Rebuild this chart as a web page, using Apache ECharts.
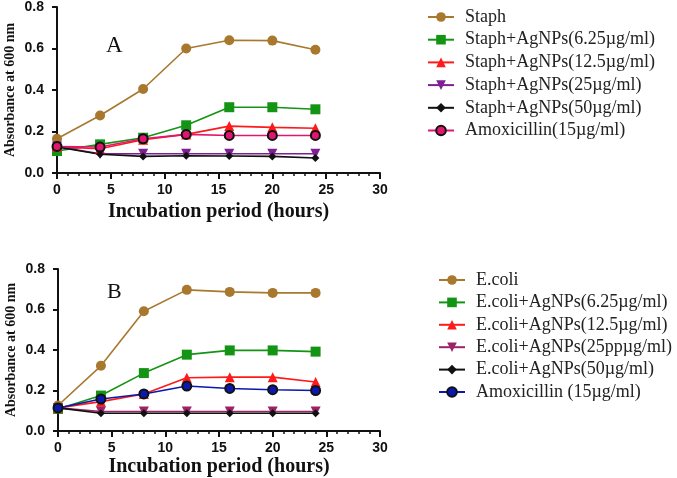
<!DOCTYPE html>
<html>
<head>
<meta charset="utf-8">
<script src="https://cdn.jsdelivr.net/npm/echarts@6/dist/echarts.min.js"></script>
<style>
  html, body { margin: 0; padding: 0; background: #fff; }
  #main { width: 677px; height: 478px; }
</style>
</head>
<body>
<div id="main"></div>
<script>
// sampling times (hours)
var hours = [0, 4, 8, 12, 16, 20, 24];

// panel A - Staph
var namesA = ['Staph', 'Staph+AgNPs(6.25µg/ml)', 'Staph+AgNPs(12.5µg/ml)', 'Staph+AgNPs(25µg/ml)', 'Staph+AgNPs(50µg/ml)', 'Amoxicillin(15µg/ml)'];
var staph      = [0.165, 0.277, 0.405, 0.600, 0.640, 0.638, 0.594];
var staph625   = [0.106, 0.138, 0.170, 0.230, 0.317, 0.317, 0.307];
var staph125   = [0.125, 0.117, 0.160, 0.186, 0.226, 0.220, 0.216];
var staph25    = [0.128, 0.092, 0.093, 0.093, 0.093, 0.093, 0.093];
var staph50    = [0.125, 0.090, 0.080, 0.083, 0.082, 0.080, 0.072];
var staphAmox  = [0.128, 0.125, 0.165, 0.186, 0.181, 0.181, 0.181];

// panel B - E.coli
var namesB = ['E.coli', 'E.coli+AgNPs(6.25µg/ml)', 'E.coli+AgNPs(12.5µg/ml)', 'E.coli+AgNPs(25ppµg/ml)', 'E.coli+AgNPs(50µg/ml)', 'Amoxicillin (15µg/ml)'];
var ecoli      = [0.126, 0.322, 0.591, 0.697, 0.687, 0.682, 0.682];
var ecoli625   = [0.109, 0.175, 0.286, 0.377, 0.398, 0.398, 0.392];
var ecoli125   = [0.114, 0.145, 0.183, 0.263, 0.266, 0.266, 0.242];
var ecoli25    = [0.114, 0.096, 0.096, 0.096, 0.096, 0.096, 0.096];
var ecoli50    = [0.114, 0.088, 0.088, 0.088, 0.088, 0.088, 0.088];
var ecoliAmox  = [0.114, 0.158, 0.183, 0.222, 0.210, 0.204, 0.200];

var xTicks = [0, 5, 10, 15, 20, 25, 30];
var yTicks = [0.0, 0.2, 0.4, 0.6, 0.8];

var downTri = 'path://M0,0 L10,0 L5,9 Z';

function pts(vals) {
    return hours.map(function (h, i) { return [h, vals[i]]; });
}

function line(name, vals, idx, color, symbol, size, border) {
    return {
        name: name,
        type: 'line',
        xAxisIndex: idx,
        yAxisIndex: idx,
        data: pts(vals),
        symbol: symbol,
        symbolSize: size,
        lineStyle: { color: color, width: 1.6 },
        itemStyle: {
            color: color,
            borderColor: border || color,
            borderWidth: border ? 2 : 0
        },
        emphasis: { disabled: true },
        z: 2
    };
}

function xAxis(idx, gap) {
    return {
        gridIndex: idx,
        type: 'value',
        min: xTicks[0],
        max: xTicks[xTicks.length - 1],
        interval: 5,
        name: 'Incubation period (hours)',
        nameLocation: 'middle',
        nameGap: gap,
        nameTextStyle: { fontFamily: 'Liberation Serif', fontWeight: 'bold', fontSize: 20, color: '#111' },
        axisLine: { lineStyle: { color: '#111', width: 2 } },
        axisTick: { show: true, length: 6, lineStyle: { color: '#111', width: 2 } },
        minorTick: { show: true, splitNumber: 5, length: 3, lineStyle: { color: '#111', width: 1.5 } },
        axisLabel: { margin: 10, fontFamily: 'Liberation Sans', fontWeight: 'bold', fontSize: 14, color: '#111' },
        splitLine: { show: false }
    };
}

function yAxis(idx) {
    return {
        gridIndex: idx,
        type: 'value',
        min: yTicks[0],
        max: yTicks[yTicks.length - 1],
        interval: 0.2,
        name: 'Absorbance at 600 nm',
        nameLocation: 'middle',
        nameGap: 40,
        nameTextStyle: { fontFamily: 'Liberation Serif', fontWeight: 'bold', fontSize: 14, color: '#111' },
        axisLine: { show: true, lineStyle: { color: '#111', width: 2 } },
        axisTick: { show: true, length: 5, lineStyle: { color: '#111', width: 2 } },
        axisLabel: {
            margin: 13, fontFamily: 'Liberation Sans', fontWeight: 'bold', fontSize: 14, color: '#111',
            formatter: function (v) { return v.toFixed(1); }
        },
        splitLine: { show: false }
    };
}

function legend(names, left, top, size, gap) {
    return {
        data: names,
        orient: 'vertical',
        left: left,
        top: top,
        itemWidth: 26,
        itemHeight: 12,
        itemGap: gap,
        selectedMode: false,
        textStyle: { fontFamily: 'Liberation Serif', fontSize: size, color: '#222', padding: [0, 0, 0, 6] }
    };
}

var myChart = echarts.init(document.getElementById('main'));

var option = {
    backgroundColor: '#fff',
    animation: false,
    title: [
        { text: 'A', left: 101, top: 29, textStyle: { fontFamily: 'Liberation Serif', fontWeight: 'normal', fontSize: 23, color: '#111' } },
        { text: 'B', left: 102, top: 276, textStyle: { fontFamily: 'Liberation Serif', fontWeight: 'normal', fontSize: 22, color: '#111' } }
    ],
    legend: [legend(namesA, 422, 3, 18, 4.7), legend(namesB, 433, 266, 18, 4.4)],
    grid: [
        { left: 57, top: 6, width: 323, height: 167 },
        { left: 58, top: 269, width: 322, height: 163 }
    ],
    xAxis: [xAxis(0, 29), xAxis(1, 26)],
    yAxis: [yAxis(0), yAxis(1)],
    series: [
        line(namesA[0], staph, 0, '#a8782e', 'circle', 10),
        line(namesA[1], staph625, 0, '#149414', 'rect', 10),
        line(namesA[2], staph125, 0, '#ff1a1a', 'triangle', 10),
        line(namesA[3], staph25, 0, '#7e1f93', downTri, 10),
        line(namesA[4], staph50, 0, '#111111', 'diamond', 8),
        line(namesA[5], staphAmox, 0, '#e01670', 'circle', 9, '#111'),

        line(namesB[0], ecoli, 1, '#a8782e', 'circle', 10),
        line(namesB[1], ecoli625, 1, '#149414', 'rect', 10),
        line(namesB[2], ecoli125, 1, '#ff1a1a', 'triangle', 10),
        line(namesB[3], ecoli25, 1, '#9b2368', downTri, 10),
        line(namesB[4], ecoli50, 1, '#111111', 'diamond', 8),
        line(namesB[5], ecoliAmox, 1, '#0a18b0', 'circle', 9, '#111')
    ]
};
myChart.setOption(option);
</script>
</body>
</html>
